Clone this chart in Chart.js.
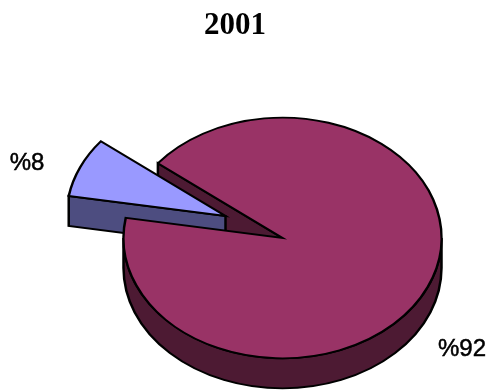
<!DOCTYPE html>
<html>
<head>
<meta charset="utf-8">
<style>
  html, body { margin: 0; padding: 0; background: #fff; }
  canvas { display: block; }
</style>
<script src="https://cdn.jsdelivr.net/npm/chart.js@4"></script>
</head>
<body>
<canvas id="pie" width="491" height="392"></canvas>
<script>
const chartTitle = '2001';
const categories = ['%8', '%92'];
const values = [8, 92];
const topColors = ['#9999ff', '#993366'];
const wallColors = ['#4d4d80', '#4d1a33'];

// fake 3d look: the pie gets squashed and walls are drawn under it
const tilt = 0.757;
const depth = 30;
const pieCenter = { x: 282.5, y: 238 };
const explode = { x: -57, y: -29 };
const labelPositions = [{ x: 27, y: 163 }, { x: 462, y: 349 }];

function drawFace(ctx, arc, angle, color) {
    const d = depth / tilt;
    const x1 = arc.x + Math.cos(angle) * arc.outerRadius;
    const y1 = arc.y + Math.sin(angle) * arc.outerRadius;
    ctx.beginPath();
    ctx.moveTo(x1, y1);
    ctx.lineTo(arc.x, arc.y);
    ctx.lineTo(arc.x, arc.y + d);
    ctx.lineTo(x1, y1 + d);
    ctx.closePath();
    ctx.fillStyle = color;
    ctx.fill();
    ctx.stroke();
}

function drawRim(ctx, arc, color) {
    const d = depth / tilt;
    ctx.beginPath();
    ctx.arc(arc.x, arc.y, arc.outerRadius, 0, Math.PI);
    ctx.arc(arc.x, arc.y + d, arc.outerRadius, Math.PI, 0, true);
    ctx.closePath();
    ctx.fillStyle = color;
    ctx.fill();
    ctx.stroke();
}

const pie3d = {
    id: 'pie3d',
    afterDatasetsUpdate(chart) {
        // pull the small slice out, the offset option also grows its radius
        const small = chart.getDatasetMeta(0).data[0];
        small.x += explode.x;
        small.y += explode.y;
    },
    beforeDatasetsDraw(chart) {
        const ctx = chart.ctx;
        const [small, big] = chart.getDatasetMeta(0).data;
        ctx.save();
        ctx.translate(pieCenter.x, pieCenter.y);
        ctx.scale(1, tilt);
        ctx.translate(-big.x, -big.y);
        ctx.strokeStyle = '#000';
        ctx.lineWidth = 2.5;
        ctx.lineJoin = 'miter';
        drawFace(ctx, big, big.startAngle, wallColors[1]);
        drawRim(ctx, big, wallColors[1]);
        drawFace(ctx, small, small.startAngle, wallColors[0]);
    },
    afterDatasetsDraw(chart) {
        chart.ctx.restore();
    },
    afterDraw(chart) {
        const ctx = chart.ctx;
        ctx.save();
        ctx.fillStyle = '#000';
        ctx.strokeStyle = '#000';
        ctx.lineWidth = 0.5;
        ctx.font = '24px "Liberation Sans"';
        ctx.textAlign = 'center';
        ctx.textBaseline = 'middle';
        categories.forEach((label, i) => {
            ctx.fillText(label, labelPositions[i].x, labelPositions[i].y);
            ctx.strokeText(label, labelPositions[i].x, labelPositions[i].y);
        });
        ctx.restore();
    }
};

new Chart(document.getElementById('pie'), {
    type: 'pie',
    data: {
        labels: categories,
        datasets: [{
            data: values,
            backgroundColor: topColors,
            borderColor: '#000',
            borderWidth: 2.5,
            borderJoinStyle: 'miter',
            clip: false
        }]
    },
    options: {
        responsive: false,
        animation: false,
        rotation: 279.6,
        radius: 159,
        layout: { padding: { right: 21 } },
        plugins: {
            legend: { display: false },
            tooltip: { enabled: false },
            title: {
                display: true,
                text: chartTitle,
                color: '#000',
                font: { family: '"Liberation Serif"', size: 31, weight: 'bold' },
                padding: { top: 7, bottom: 10 }
            }
        }
    },
    plugins: [pie3d]
});
</script>
</body>
</html>
